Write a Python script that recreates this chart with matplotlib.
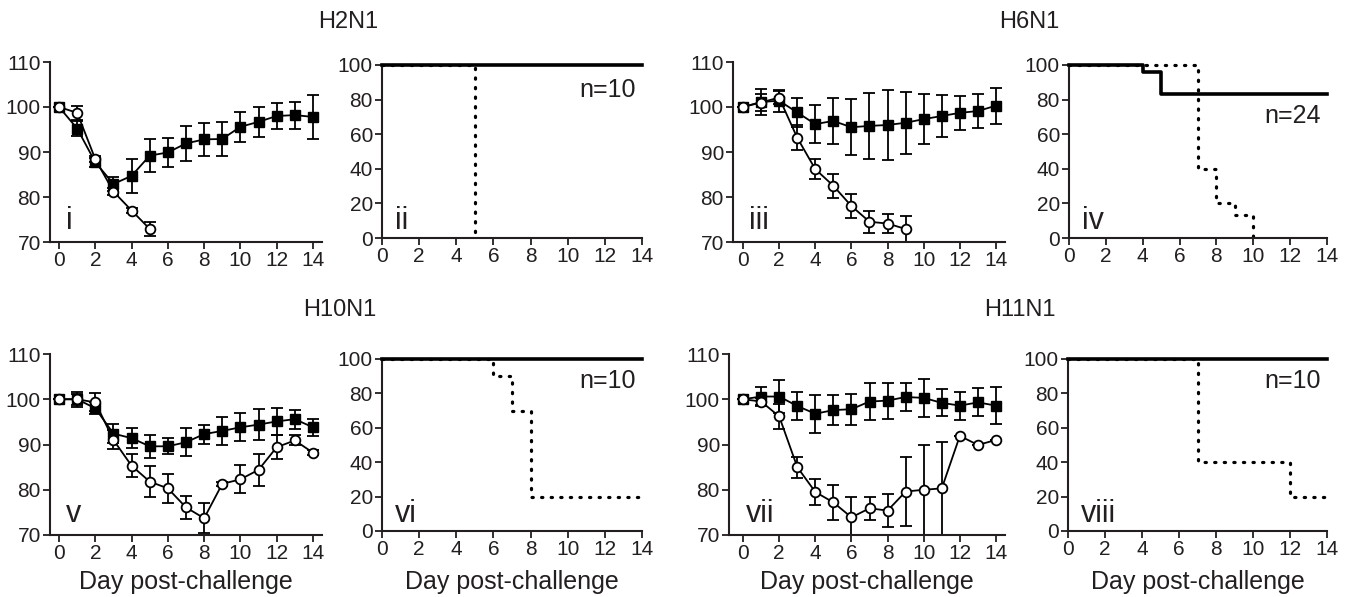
import numpy as np
import matplotlib.pyplot as plt

plt.rcParams['font.family'] = ['Liberation Sans', 'DejaVu Sans']
ink = '#231f20'

# Data
days = [0, 1, 2, 3, 4, 5, 6, 7, 8, 9, 10, 11, 12, 13, 14]

h2_sq = [100, 95.2, 87.7, 82.9, 84.7, 89.2, 89.9, 91.9, 92.8, 92.9, 95.6, 96.7, 98.0, 98.2, 97.8]
h2_sq_err = [0, 1.6, 1.0, 1.6, 3.8, 3.6, 3.3, 3.8, 3.6, 3.8, 3.3, 3.3, 2.8, 3.0, 4.8]
h2_ci = [100, 98.7, 88.4, 81.2, 77.0, 72.9]
h2_ci_err = [0, 1.6, 0.7, 0.8, 0.5, 1.5]

h6_sq = [100, 101.1, 101.4, 98.8, 96.2, 96.9, 95.5, 95.8, 96.0, 96.5, 97.3, 98.0, 98.7, 99.1, 100.3]
h6_sq_err = [0, 2.8, 2.4, 3.2, 4.2, 5.2, 6.2, 7.4, 7.7, 6.9, 5.5, 4.6, 3.8, 3.8, 4.0]
h6_ci = [100, 101.0, 102.1, 93.2, 86.2, 82.5, 78.0, 74.5, 74.1, 72.9]
h6_ci_err = [0, 1.8, 1.5, 2.8, 2.3, 2.7, 2.7, 2.5, 2.2, 2.8]

h10_sq = [100, 100.0, 98.0, 92.4, 91.4, 89.6, 89.6, 90.5, 92.3, 93.0, 93.8, 94.4, 95.1, 95.6, 93.8]
h10_sq_err = [0, 1.7, 1.3, 2.1, 2.2, 2.6, 1.8, 3.1, 2.1, 3.0, 3.1, 3.5, 2.9, 2.1, 1.9]
h10_ci = [100, 100.0, 99.3, 91.0, 85.3, 81.8, 80.3, 76.1, 73.7, 81.3, 82.3, 84.4, 89.4, 90.9, 88.2]
h10_ci_err = [0, 1.2, 2.0, 2.1, 2.5, 3.5, 3.2, 2.5, 3.3, 0.5, 3.1, 3.5, 2.6, 1.1, 0.5]

h11_sq = [100, 100.6, 100.6, 98.5, 96.8, 97.6, 97.8, 99.5, 99.7, 100.5, 100.3, 99.2, 98.6, 99.3, 98.6]
h11_sq_err = [0, 2.0, 3.7, 3.1, 4.2, 3.3, 3.4, 4.1, 4.0, 3.0, 4.2, 3.0, 3.1, 3.1, 4.1]
h11_ci = [100, 99.5, 96.2, 85.0, 79.5, 77.2, 73.9, 75.9, 75.4, 79.6, 80.0, 80.3, 91.9, 89.9, 91.0]
h11_ci_err = [0, 0.8, 2.7, 2.3, 2.8, 3.9, 4.5, 2.6, 3.6, 7.6, 9.9, 10.2, 0, 0, 0]

# survival (Kaplan-Meier steps)
h2_surv_solid = ([0, 14], [100, 100])
h2_surv_dot = ([0, 5], [100, 0])
h6_surv_solid = ([0, 4, 5, 14], [100, 95.8, 83.3, 83.3])
h6_surv_dot = ([0, 7, 8, 9, 10], [100, 40, 20, 13.3, 0])
h10_surv_solid = ([0, 14], [100, 100])
h10_surv_dot = ([0, 6, 7, 8, 14], [100, 90, 70, 20, 20])
h11_surv_solid = ([0, 14], [100, 100])
h11_surv_dot = ([0, 7, 12, 14], [100, 40, 20, 20])

W, H = 1352, 597
fig = plt.figure(figsize=(W / 100, H / 100), dpi=100)


def box(l, r, t, b):
    return [l / W, 1 - b / H, (r - l) / W, (b - t) / H]


def style(ax):
    for s in ['top', 'right']:
        ax.spines[s].set_visible(False)
    for s in ['left', 'bottom']:
        ax.spines[s].set_linewidth(1.5)
        ax.spines[s].set_color(ink)
    ax.tick_params(direction='out', length=5, width=1.3, labelsize=15,
                   color=ink, labelcolor=ink, pad=1.5)
    ax.set_xticks(range(0, 15, 2))


def weight(ax, sq, sq_err, ci, ci_err, xmin, tag):
    style(ax)
    ax.errorbar(days[:len(sq)], sq, yerr=sq_err, fmt='-s', color='k', ms=6.5, lw=1.3,
                elinewidth=1.3, capsize=4, capthick=1.3)
    ax.errorbar(days[:len(ci)], ci, yerr=ci_err, fmt='-o', color='k', mfc='white',
                mec='k', mew=1.3, ms=7, lw=1.3, elinewidth=1.3, capsize=4, capthick=1.3)
    ax.set_xlim(xmin, 14.5)
    ax.set_ylim(70, 110)
    ax.set_yticks([70, 80, 90, 100, 110])
    ax.text(0.06, 0.07, tag, transform=ax.transAxes, fontsize=22, color=ink)


def survival(ax, solid, dot, n, ny, tag):
    style(ax)
    ax.step(*dot, where='post', color='k', lw=2.3, ls=(0, (0.4, 2.6)),
            dash_capstyle='round', clip_on=False)
    ax.step(*solid, where='post', color='k', lw=2.6, clip_on=False, zorder=3)
    ax.set_xlim(0, 14)
    ax.set_ylim(0, 100)
    ax.set_yticks(range(0, 101, 20))
    ax.text(0.975, ny, n, transform=ax.transAxes, fontsize=18, ha='right', color=ink)
    ax.text(0.05, 0.05, tag, transform=ax.transAxes, fontsize=22, color=ink)


def xlabel(l, r):
    fig.text((l + r) / 2 / W, 1 - 589 / H, 'Day post-challenge', fontsize=18,
             ha='center', va='baseline', color=ink)


ax = fig.add_axes(box(50, 322, 62, 242))
weight(ax, h2_sq, h2_sq_err, h2_ci, h2_ci_err, -0.5, 'i')
ax = fig.add_axes(box(382, 642, 65, 238))
survival(ax, h2_surv_solid, h2_surv_dot, 'n=10', 0.815, 'ii')
ax = fig.add_axes(box(733, 1005, 62, 242))
weight(ax, h6_sq, h6_sq_err, h6_ci, h6_ci_err, -0.55, 'iii')
ax = fig.add_axes(box(1069, 1327, 65, 238))
survival(ax, h6_surv_solid, h6_surv_dot, 'n=24', 0.665, 'iv')

ax = fig.add_axes(box(50, 322, 354, 535))
weight(ax, h10_sq, h10_sq_err, h10_ci, h10_ci_err, -0.5, 'v')
xlabel(50, 322)
ax = fig.add_axes(box(382, 642, 359, 531))
survival(ax, h10_surv_solid, h10_surv_dot, 'n=10', 0.83, 'vi')
xlabel(382, 642)
ax = fig.add_axes(box(729, 1005, 354, 535))
weight(ax, h11_sq, h11_sq_err, h11_ci, h11_ci_err, -0.78, 'vii')
xlabel(729, 1005)
ax = fig.add_axes(box(1068, 1327, 359, 531))
survival(ax, h11_surv_solid, h11_surv_dot, 'n=10', 0.83, 'viii')
xlabel(1068, 1327)

fig.text(348 / W, 1 - 22 / H, 'H2N1', fontsize=17, ha='center', va='center', color=ink)
fig.text(1029 / W, 1 - 22 / H, 'H6N1', fontsize=17, ha='center', va='center', color=ink)
fig.text(340 / W, 1 - 310 / H, 'H10N1', fontsize=17, ha='center', va='center', color=ink)
fig.text(1020 / W, 1 - 310 / H, 'H11N1', fontsize=17, ha='center', va='center', color=ink)

fig.savefig('out.png', dpi=100)
